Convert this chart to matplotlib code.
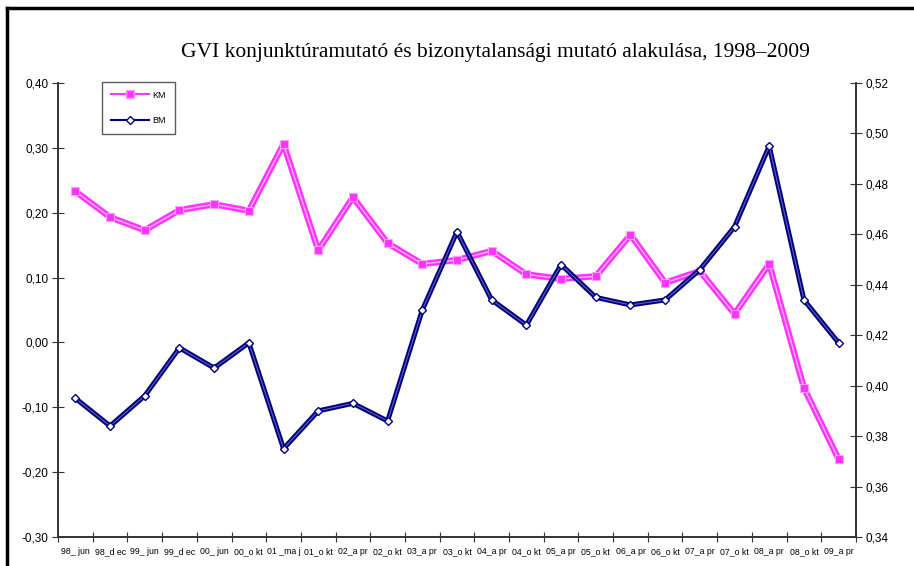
import numpy as np
import matplotlib.pyplot as plt
from matplotlib.lines import Line2D
import matplotlib.patheffects as pe

# category labels as they show on the axis
labels = ["98_ jun", "98_d ec", "99_ jun", "99_d ec", "00_ jun", "00_o kt",
          "01 _ma j", "01_o kt", "02_a pr", "02_o kt", "03_a pr", "03_o kt",
          "04_a pr", "04_o kt", "05_a pr", "05_o kt", "06_a pr", "06_o kt",
          "07_a pr", "07_o kt", "08_a pr", "08_o kt", "09_a pr"]

# konjunkturamutato (left axis)
km = [0.233, 0.193, 0.173, 0.204, 0.213, 0.203, 0.306, 0.142, 0.224, 0.153,
      0.121, 0.127, 0.141, 0.105, 0.098, 0.102, 0.166, 0.092, 0.110, 0.044,
      0.121, -0.070, -0.180]

# bizonytalansagi mutato (right axis)
bm = [0.395, 0.384, 0.396, 0.415, 0.407, 0.417, 0.375, 0.390, 0.393, 0.386,
      0.430, 0.461, 0.434, 0.424, 0.448, 0.435, 0.432, 0.434, 0.446, 0.463,
      0.495, 0.434, 0.417]

left_ticks = [-0.30, -0.20, -0.10, 0.00, 0.10, 0.20, 0.30, 0.40]
right_ticks = [0.34, 0.36, 0.38, 0.40, 0.42, 0.44, 0.46, 0.48, 0.50, 0.52]

MAG = "#ff33ff"
NAVY = "#000080"

plt.rcParams['font.family'] = ['Liberation Sans', 'DejaVu Sans']

fig = plt.figure(figsize=(9.14, 5.66), dpi=100)
ax = fig.add_axes([0.0635, 0.0512, 0.873, 0.8022])
ax2 = ax.twinx()

x = np.arange(len(labels)) + 0.5

def hu(v):
    return ("%.2f" % v).replace(".", ",")

# double-line look of the old spreadsheet chart
ax.plot(x, km, color="#ffb0ff", lw=1.0, zorder=3,
        path_effects=[pe.Stroke(linewidth=4.5, foreground=MAG), pe.Normal()])
ax.plot(x, km, ls="none", marker="s", ms=6, mfc=MAG, mec="#ffa0ff",
        mew=0.8, zorder=4)
ax2.plot(x, bm, color="#6060b8", lw=0.8, zorder=3,
         path_effects=[pe.Stroke(linewidth=3.6, foreground=NAVY), pe.Normal()])
ax2.plot(x, bm, ls="none", marker="D", ms=4, mfc="white", mec=NAVY,
         mew=1.0, zorder=4)

ax.set_xlim(0, len(labels))
ax.set_ylim(-0.30, 0.40)
ax2.set_ylim(0.34, 0.52)
ax.set_yticks(left_ticks)
ax.set_yticklabels([hu(v) for v in left_ticks], fontsize=8.5)
ax2.set_yticks(right_ticks)
ax2.set_yticklabels([hu(v) for v in right_ticks], fontsize=8.5)

ax.set_xticks(np.arange(len(labels) + 1))
ax.set_xticklabels([])
ax.set_xticks(x, minor=True)
ax.set_xticklabels(labels, minor=True, fontsize=6.3)
ax.tick_params(axis="x", which="minor", length=0, pad=7)
ax.tick_params(axis="x", which="major", direction="inout", length=7, color="#333333")
ax.tick_params(axis="y", direction="inout", length=8, color="#333333", pad=3)
ax2.tick_params(axis="y", direction="inout", length=8, color="#333333", pad=3)

for a in (ax, ax2):
    a.spines["top"].set_visible(False)
    for s in ("left", "right", "bottom"):
        a.spines[s].set_color("#333333")
        a.spines[s].set_linewidth(1.2)

h1 = Line2D([], [], color=MAG, lw=1.5, marker="s", ms=5.5, mfc=MAG, mec="#ff99ff")
h2 = Line2D([], [], color=NAVY, lw=1.5, marker="D", ms=4.5, mfc="white", mec=NAVY)
leg = ax.legend([h1, h2], ["KM", "BM"], loc="upper left",
                bbox_to_anchor=(0.055, 1.003), fontsize=6.5, frameon=True,
                fancybox=False, edgecolor="#333333", borderpad=1.0,
                labelspacing=1.8, handlelength=4.2, handletextpad=0.4,
                borderaxespad=0)
leg.get_frame().set_linewidth(1.0)

fig.text(0.542, 0.908, "GVI konjunktúramutató és bizonytalansági mutató alakulása, 1998–2009",
         ha="center", va="center", fontsize=15.5, family="Liberation Serif")

# outer frame (left and top edges)
fig.add_artist(Line2D([0.0075, 0.0075], [0.0, 0.985], color="black", lw=2.5,
                      transform=fig.transFigure))
fig.add_artist(Line2D([0.0075, 1.0], [0.985, 0.985], color="black", lw=2.5,
                      transform=fig.transFigure))

fig.savefig("out.png", dpi=100)
